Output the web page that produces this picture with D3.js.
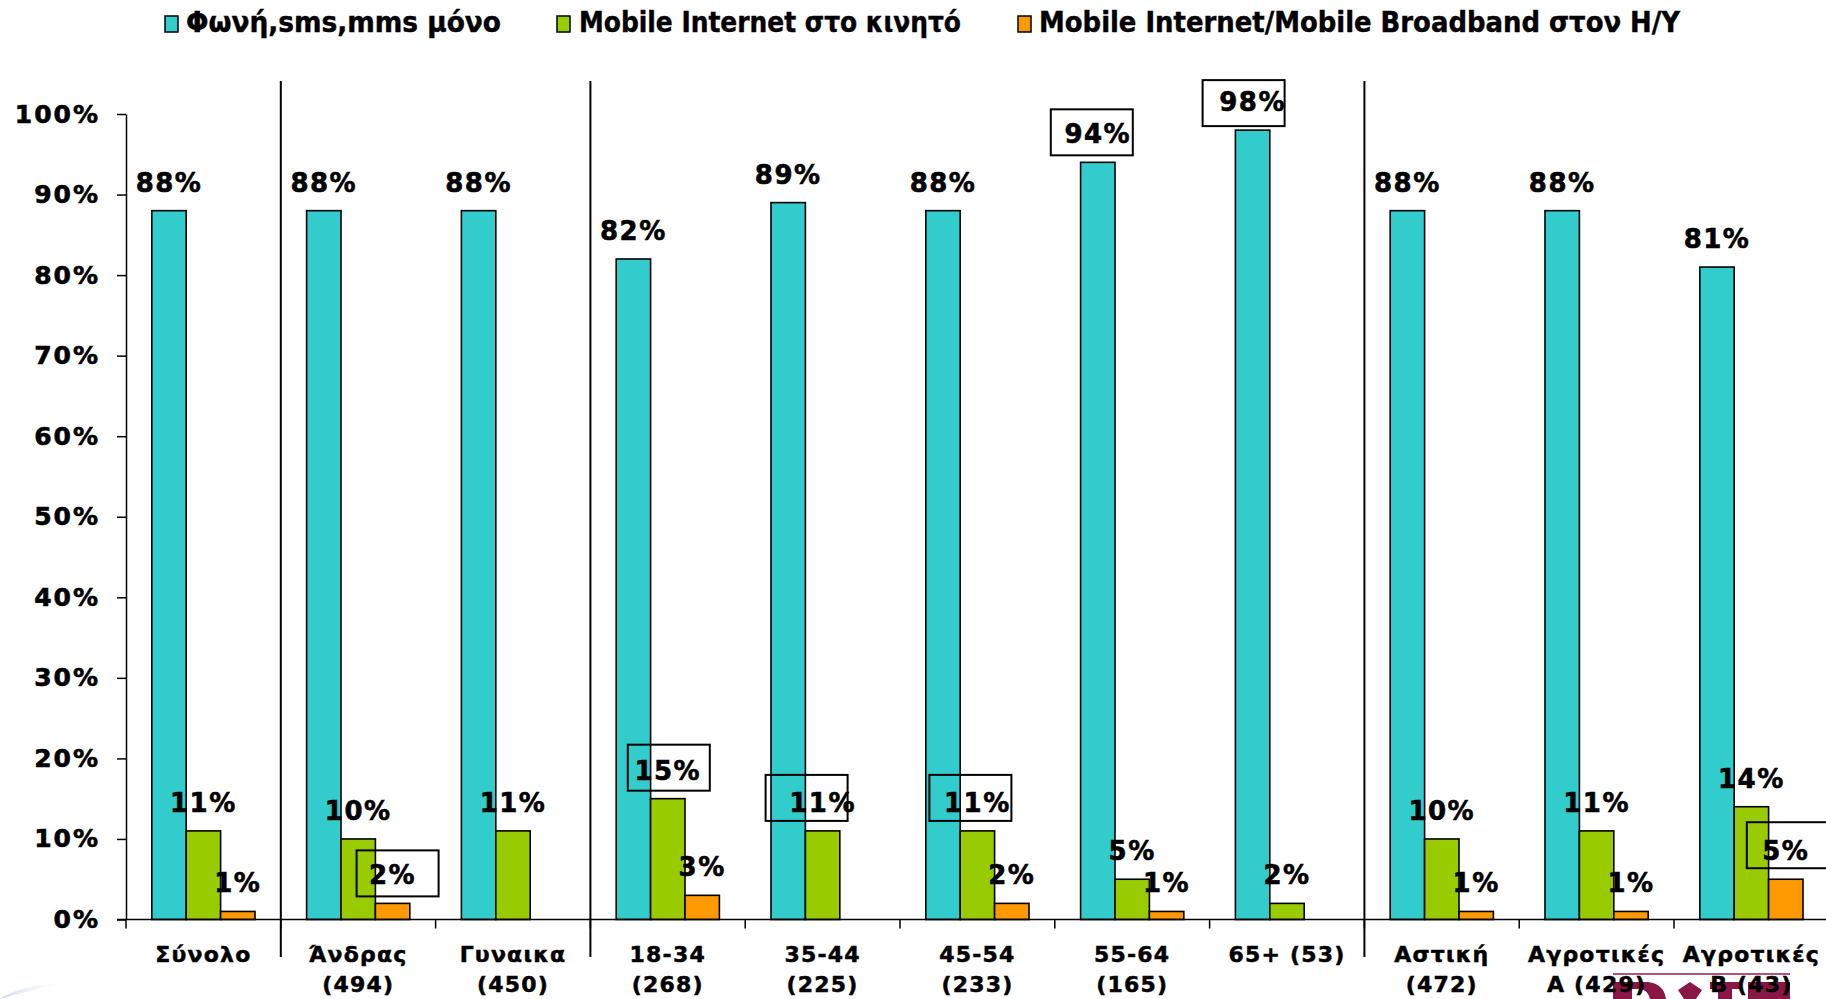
<!DOCTYPE html>
<html>
<head>
<meta charset="utf-8">
<script src="https://cdn.jsdelivr.net/npm/d3@7"></script>
<style>
html,body{margin:0;padding:0;background:#fff;overflow:hidden;}
svg{display:block;}
</style>
</head>
<body>
<svg id="chart" width="1826" height="999"></svg>
<script>
// ---------- DATA ----------
const categories = ["Σύνολο", "Άνδρας\n(494)", "Γυναικα\n(450)", "18-34\n(268)", "35-44\n(225)",
  "45-54\n(233)", "55-64\n(165)", "65+ (53)", "Αστική\n(472)", "Αγροτικές\nΑ (429)", "Αγροτικές\nΒ (43)"];
const seriesNames = ["Φωνή,sms,mms μόνο", "Mobile Internet στο κινητό", "Mobile Internet/Mobile Broadband στον H/Y"];
const voiceSmsOnly = [88, 88, 88, 82, 89, 88, 94, 98, 88, 88, 81];
const mobileInternetPhone = [11, 10, 11, 15, 11, 11, 5, 2, 10, 11, 14];
const mobileBroadbandPC = [1, 2, null, 3, null, 2, 1, null, 1, 1, 5];
const yTickValues = [0, 10, 20, 30, 40, 50, 60, 70, 80, 90, 100];
// categories after which a group separator line is drawn
const groupEnds = ["Σύνολο", "Γυναικα\n(450)", "65+ (53)"];
// data labels drawn with a frame (category index, series index)
const framedLabels = [[1, 2], [3, 1], [4, 1], [5, 1], [6, 0], [7, 0], [10, 2]];

// ---------- LAYOUT / STYLE ----------
const W = 1826, H = 999;
const colors = ["#33CCCC", "#99CC00", "#FF9900"];
const axisX = 126, bandW = 154.8;
const yBottom = 919.5, yTop = 114;
const FONT = "'DejaVu Sans', Verdana, sans-serif";
// frame offsets (box left relative to label centre, box top relative to baseline)
const frameOffsets = [[-36, -32], [-40, -33], [-57, -35], [-48, -35], [-47, -32], [-50, -29], [-39, -36]];
const frameW = 82, frameH = 46;

const seriesData = [voiceSmsOnly, mobileInternetPhone, mobileBroadbandPC];

const svg = d3.select("#chart");
svg.append("rect").attr("width", W).attr("height", H).attr("fill", "#fff");

// decorative background bits
const defs = svg.append("defs");
const grad = defs.append("linearGradient").attr("id", "sw").attr("x1", "0").attr("x2", "1");
grad.append("stop").attr("offset", "0").attr("stop-color", "#c9cdf0").attr("stop-opacity", 0.9);
grad.append("stop").attr("offset", "1").attr("stop-color", "#ffffff").attr("stop-opacity", 0);
svg.append("path").attr("d", "M0,999 Q20,985 70,982 Q30,990 0,999 Z").attr("fill", "url(#sw)");
// partial logo at bottom right (tops of large letters, drawn as shapes)
const logo = svg.append("g").attr("fill", "#8a1645");
svg.append("line").attr("x1", 1613).attr("x2", 1790).attr("y1", 974).attr("y2", 974)
  .attr("stroke", "#b2557a").attr("stroke-width", 2);
logo.append("path").attr("d", "M1613,982 H1648 Q1664,984 1666,999 H1650 Q1648,990 1640,989 H1632 V999 H1613 Z");
logo.append("path").attr("d", "M1678,990 L1690,982 L1702,990 L1696,999 H1684 Z");
logo.append("path").attr("d", "M1710,982 H1740 V989 H1732 V999 H1718 V989 H1710 Z");
logo.append("path").attr("d", "M1748,982 H1790 V999 H1748 Z");

// scales
const x0 = d3.scaleBand().domain(categories).range([axisX, axisX + bandW * categories.length])
  .paddingInner(0).paddingOuter(0);
const x1 = d3.scaleBand().domain(d3.range(seriesNames.length)).range([bandW / 6, bandW * 5 / 6]).padding(0);
const y = d3.scaleLinear().domain([0, 100]).range([yBottom, yTop]);

// group separator lines
svg.append("g").selectAll("line").data(groupEnds).join("line")
  .attr("x1", d => x0(d) + bandW).attr("x2", d => x0(d) + bandW)
  .attr("y1", 81).attr("y2", 957)
  .attr("stroke", "#000").attr("stroke-width", 2);

// y axis
const yAxis = d3.axisLeft(y).tickValues(yTickValues).tickFormat(d => d + "%")
  .tickSize(9).tickSizeOuter(0).tickPadding(17);
const gy = svg.append("g").attr("transform", `translate(${axisX},0)`).call(yAxis);
gy.select(".domain").attr("stroke", "#000").attr("stroke-width", 1.5);
gy.selectAll(".tick line").attr("stroke", "#000").attr("stroke-width", 1.5);
gy.selectAll(".tick text").attr("font-family", FONT).attr("font-weight", "bold")
  .attr("font-size", 25).attr("letter-spacing", 2).attr("fill", "#000")
  .attr("stroke", "#000").attr("stroke-width", 0.6);

// bars
const bars = svg.append("g");
seriesData.forEach((vals, s) => {
  bars.append("g").selectAll("rect")
    .data(vals.map((v, i) => ({ v, c: categories[i] })).filter(d => d.v != null))
    .join("rect")
    .attr("x", d => x0(d.c) + x1(s))
    .attr("y", d => y(d.v))
    .attr("width", x1.bandwidth())
    .attr("height", d => y(0) - y(d.v))
    .attr("fill", colors[s])
    .attr("stroke", "#000").attr("stroke-width", 1.6);
});

// x axis line and boundary ticks
svg.append("line").attr("x1", axisX - 9).attr("x2", W).attr("y1", y(0)).attr("y2", y(0))
  .attr("stroke", "#000").attr("stroke-width", 1.6);
svg.append("g").selectAll("line").data(d3.range(categories.length + 1)).join("line")
  .attr("x1", i => axisX + i * bandW).attr("x2", i => axisX + i * bandW)
  .attr("y1", y(0)).attr("y2", y(0) + 9)
  .attr("stroke", "#000").attr("stroke-width", 1.5);

// category labels
const xl = svg.append("g");
categories.forEach(c => {
  const t = xl.append("text").attr("text-anchor", "middle")
    .attr("font-family", FONT).attr("font-weight", "bold").attr("font-size", 22)
    .attr("letter-spacing", 1.2).attr("fill", "#000")
    .attr("stroke", "#000").attr("stroke-width", 0.5);
  c.split("\n").forEach((line, k) => {
    t.append("tspan").attr("x", x0(c) + bandW / 2).attr("y", 962 + k * 30).text(line);
  });
});

// data labels
const lbl = svg.append("g");
seriesData.forEach((vals, s) => {
  vals.forEach((v, i) => {
    if (v == null) return;
    const cx = x0(categories[i]) + x1(s) + x1.bandwidth() / 2;
    const by = y(v) - 19;
    lbl.append("text").attr("x", cx).attr("y", by).attr("text-anchor", "middle")
      .attr("font-family", FONT).attr("font-weight", "bold").attr("font-size", 26)
      .attr("letter-spacing", 1.5).attr("fill", "#000")
      .attr("stroke", "#000").attr("stroke-width", 0.6).text(v + "%");
    const fi = framedLabels.findIndex(f => f[0] === i && f[1] === s);
    if (fi >= 0) {
      lbl.append("rect").attr("x", cx + frameOffsets[fi][0]).attr("y", by + frameOffsets[fi][1] - 2)
        .attr("width", frameW).attr("height", frameH)
        .attr("fill", "none").attr("stroke", "#000").attr("stroke-width", 2);
    }
  });
});

// legend
const legendPos = [[165, 186, 315], [557, 579, 382], [1018, 1039, 641]];
const leg = svg.append("g");
seriesNames.forEach((name, s) => {
  leg.append("rect").attr("x", legendPos[s][0]).attr("y", 16).attr("width", 13).attr("height", 16)
    .attr("fill", colors[s]).attr("stroke", "#000").attr("stroke-width", 1.5);
  leg.append("text").attr("x", legendPos[s][1]).attr("y", 32)
    .attr("font-family", "'DejaVu Sans Condensed', 'DejaVu Sans', sans-serif")
    .attr("font-stretch", "condensed").attr("font-weight", "bold").attr("font-size", 28)
    .attr("textLength", legendPos[s][2]).attr("lengthAdjust", "spacingAndGlyphs")
    .attr("fill", "#000").attr("stroke", "#000").attr("stroke-width", 0.4).text(name);
});
</script>
</body>
</html>
